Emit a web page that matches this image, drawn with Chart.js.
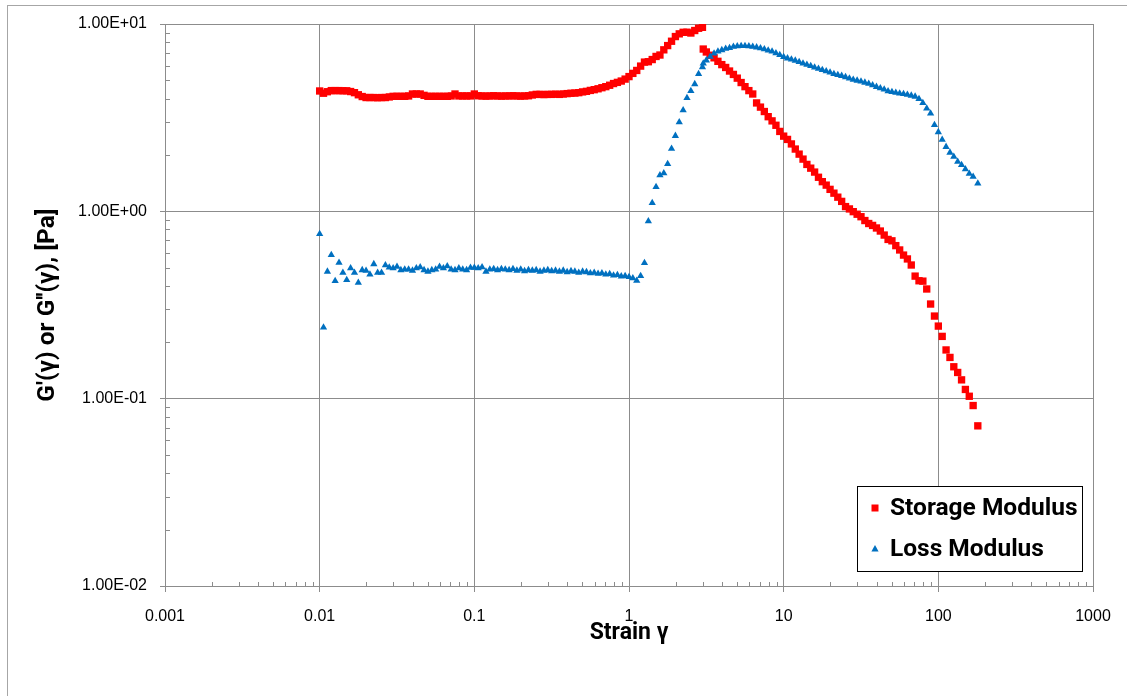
<!DOCTYPE html>
<html>
<head>
<meta charset="utf-8">
<title>Amplitude sweep</title>
<script src="https://cdn.jsdelivr.net/npm/chart.js@4.4.1/dist/chart.umd.min.js"></script>
<style>
  html, body { margin: 0; padding: 0; background: #fff; overflow: hidden; }
  #wrap { position: relative; width: 1127px; height: 696px; }
</style>
</head>
<body>
<div id="wrap"><canvas id="sweep"></canvas></div>
<script>
/* ---------- Data ---------- */
// strain amplitude (shared by both moduli)
const strain = [
  0.01, 0.01059, 0.01122, 0.01189, 0.01259, 0.01334, 0.01413, 0.01496, 0.01585, 0.01679,
  0.01778, 0.01884, 0.01995, 0.02113, 0.02239, 0.02371, 0.02512, 0.02661, 0.02818, 0.02985,
  0.03162, 0.0335, 0.03548, 0.03758, 0.03981, 0.04217, 0.04467, 0.04732, 0.05012, 0.05309,
  0.05623, 0.05957, 0.0631, 0.06683, 0.07079, 0.07499, 0.07943, 0.08414, 0.08913, 0.09441,
  0.1, 0.1059, 0.1122, 0.1189, 0.1259, 0.1334, 0.1413, 0.1496, 0.1585, 0.1679,
  0.1778, 0.1884, 0.1995, 0.2113, 0.2239, 0.2371, 0.2512, 0.2661, 0.2818, 0.2985,
  0.3162, 0.335, 0.3548, 0.3758, 0.3981, 0.4217, 0.4467, 0.4732, 0.5012, 0.5309,
  0.5623, 0.5957, 0.631, 0.6683, 0.7079, 0.7499, 0.7943, 0.8414, 0.8913, 0.9441,
  1, 1.059, 1.122, 1.189, 1.259, 1.334, 1.413, 1.496, 1.585, 1.679,
  1.778, 1.884, 1.995, 2.113, 2.239, 2.371, 2.512, 2.661, 2.818, 2.985,
  3.02, 3.162, 3.35, 3.548, 3.758, 3.981, 4.217, 4.467, 4.732, 5.012,
  5.309, 5.623, 5.957, 6.31, 6.683, 7.079, 7.499, 7.943, 8.414, 8.913, 9.441,
  10, 10.59, 11.22, 11.89, 12.59, 13.34, 14.13, 14.96, 15.85, 16.79,
  17.78, 18.84, 19.95, 21.13, 22.39, 23.71, 25.12, 26.61, 28.18, 29.85,
  31.62, 33.5, 35.48, 37.58, 39.81, 42.17, 44.67, 47.32, 50.12, 53.09,
  56.23, 59.57, 63.1, 66.83, 70.79, 74.99, 79.43, 84.14, 89.13, 94.41,
  100, 105.9, 112.2, 118.9, 125.9, 133.4, 141.3, 149.6, 158.5, 167.9, 180
];

// G' [Pa]
const storage = [
  4.39, 4.27, 4.35, 4.41, 4.41, 4.41, 4.40, 4.40, 4.36, 4.30,
  4.19, 4.10, 4.05, 4.05, 4.05, 4.04, 4.05, 4.05, 4.08, 4.11,
  4.11, 4.11, 4.11, 4.13, 4.23, 4.23, 4.23, 4.16, 4.11, 4.11,
  4.11, 4.11, 4.11, 4.11, 4.13, 4.23, 4.13, 4.13, 4.13, 4.13,
  4.23, 4.14, 4.13, 4.12, 4.13, 4.14, 4.13, 4.12, 4.13, 4.13,
  4.14, 4.13, 4.12, 4.13, 4.14, 4.18, 4.21, 4.21, 4.20, 4.21,
  4.21, 4.22, 4.21, 4.23, 4.25, 4.27, 4.28, 4.30, 4.34, 4.37,
  4.42, 4.46, 4.51, 4.57, 4.63, 4.71, 4.81, 4.88, 4.96, 5.08,
  5.24, 5.45, 5.65, 5.96, 6.26, 6.29, 6.46, 6.71, 6.83, 7.28,
  7.67, 8.09, 8.57, 8.86, 9.03, 9.04, 8.95, 9.23, 9.49, 9.60,
  7.35, 7.09, 6.81, 6.60, 6.32, 6.07, 5.86, 5.61, 5.38, 5.14,
  4.87, 4.63, 4.41, 4.23, 3.79, 3.60, 3.41, 3.20, 3.04, 2.88, 2.67,
  2.52, 2.42, 2.29, 2.15, 2.02, 1.90, 1.78, 1.70, 1.62, 1.52,
  1.44, 1.38, 1.31, 1.25, 1.19, 1.13, 1.06, 1.03, 0.996, 0.965,
  0.936, 0.893, 0.861, 0.841, 0.815, 0.785, 0.747, 0.708, 0.696, 0.656,
  0.622, 0.584, 0.557, 0.517, 0.451, 0.426, 0.424, 0.385, 0.320, 0.276,
  0.244, 0.215, 0.182, 0.166, 0.148, 0.138, 0.126, 0.112, 0.103, 0.0919, 0.0716
];

// G'' [Pa]
const loss = [
  0.757, 0.240, 0.477, 0.585, 0.425, 0.532, 0.470, 0.430, 0.497, 0.470,
  0.416, 0.486, 0.482, 0.461, 0.523, 0.470, 0.470, 0.516, 0.502, 0.497,
  0.506, 0.486, 0.490, 0.490, 0.483, 0.497, 0.503, 0.486, 0.477, 0.486,
  0.490, 0.506, 0.497, 0.510, 0.490, 0.486, 0.497, 0.490, 0.486, 0.500,
  0.500, 0.497, 0.503, 0.477, 0.490, 0.493, 0.486, 0.493, 0.490, 0.486,
  0.493, 0.483, 0.490, 0.480, 0.486, 0.483, 0.486, 0.477, 0.483, 0.486,
  0.480, 0.483, 0.477, 0.483, 0.474, 0.480, 0.477, 0.471, 0.477, 0.474,
  0.468, 0.471, 0.465, 0.468, 0.460, 0.463, 0.455, 0.458, 0.450, 0.452,
  0.446, 0.440, 0.426, 0.452, 0.530, 0.887, 1.11, 1.35, 1.56, 1.60,
  1.79, 2.16, 2.53, 2.99, 3.47, 4.03, 4.39, 4.78, 5.41, 5.89,
  6.16, 6.40, 6.70, 6.96, 7.14, 7.26, 7.39, 7.46, 7.57, 7.61,
  7.63, 7.63, 7.62, 7.57, 7.51, 7.43, 7.34, 7.23, 7.13, 6.98, 6.83,
  6.67, 6.56, 6.47, 6.38, 6.28, 6.16, 6.06, 5.97, 5.87, 5.78,
  5.69, 5.60, 5.52, 5.42, 5.35, 5.29, 5.21, 5.12, 5.05, 4.99,
  4.94, 4.87, 4.80, 4.72, 4.62, 4.54, 4.47, 4.38, 4.34, 4.30,
  4.26, 4.23, 4.19, 4.15, 4.10, 3.98, 3.79, 3.54, 3.33, 2.89,
  2.65, 2.41, 2.21, 2.06, 1.96, 1.84, 1.77, 1.68, 1.59, 1.53, 1.41
];

// axis decades and their labels
const xMajor = [0.001, 0.01, 0.1, 1, 10, 100, 1000];
const xTickLabels = ['0.001', '0.01', '0.1', '1', '10', '100', '1000'];
const yMajor = [0.01, 0.1, 1, 10];
const yTickLabels = ['1.00E-02', '1.00E-01', '1.00E+00', '1.00E+01'];

/* ---------- Style ---------- */
const GRID = '#8c8c8c';
const RED  = '#ff0000';
const BLUE = '#0070c0';

Chart.defaults.font.family = '"Liberation Sans", Arial, sans-serif';
Chart.defaults.color = '#000';

/* ---------- Helpers ---------- */
const majorIndex = (list, v) => list.findIndex(m => Math.abs(v / m - 1) < 1e-6);

// 1..9 ticks in every decade, labels only on the decades
function decadeTicks(majors) {
  const out = [];
  majors.forEach((m, i) => {
    out.push({ value: m });
    if (i < majors.length - 1) {
      for (let k = 2; k <= 9; k++) out.push({ value: m * k });
    }
  });
  return out;
}

const onMajor = (list) => (c) => (c.tick && majorIndex(list, c.tick.value) < 0) ? 'rgba(0,0,0,0)' : GRID;

/* ---------- Plugin: frame, minor ticks, legend box ---------- */
const sheetDecor = {
  id: 'sheetDecor',
  beforeDraw(chart) {
    const ctx = chart.ctx;
    ctx.save();
    ctx.fillStyle = '#fff';
    ctx.fillRect(0, 0, chart.width, chart.height);
    ctx.strokeStyle = '#a6a6a6';
    ctx.lineWidth = 1;
    ctx.strokeRect(7.5, 5.5, chart.width + 20, chart.height + 20);
    ctx.restore();
  },
  beforeDatasetsDraw(chart) {
    const ctx = chart.ctx;
    const { left, bottom } = chart.chartArea;
    const xs = chart.scales.x, ys = chart.scales.y;
    ctx.save();
    ctx.strokeStyle = GRID;
    ctx.lineWidth = 1;
    ctx.beginPath();
    ys.ticks.forEach(t => {
      if (majorIndex(yMajor, t.value) >= 0) return;
      const py = Math.round(ys.getPixelForValue(t.value)) + 0.5;
      ctx.moveTo(left, py);
      ctx.lineTo(left + 5, py);
    });
    xs.ticks.forEach(t => {
      if (majorIndex(xMajor, t.value) >= 0) return;
      const px = Math.round(xs.getPixelForValue(t.value)) + 0.5;
      ctx.moveTo(px, bottom);
      ctx.lineTo(px, bottom - 4);
    });
    ctx.stroke();
    ctx.restore();
  },
  afterDraw(chart) {
    const ctx = chart.ctx;
    const box = { x: 857, y: 486, w: 225, h: 86 };
    ctx.save();
    ctx.fillStyle = '#fff';
    ctx.fillRect(box.x, box.y, box.w, box.h);
    ctx.strokeStyle = '#000';
    ctx.lineWidth = 1;
    ctx.strokeRect(box.x + 0.5, box.y + 0.5, box.w, box.h - 1);

    ctx.font = 'bold 24.5px Roboto';
    ctx.textBaseline = 'middle';
    chart.data.datasets.forEach((ds, i) => {
      const cy = 508 + i * 41;
      const cx = 875;
      ctx.fillStyle = ds.pointBackgroundColor;
      if (ds.pointStyle === 'rect') {
        ctx.fillRect(cx - 3.5, cy - 3.5, 7, 7);
      } else {
        ctx.beginPath();
        ctx.moveTo(cx, cy - 4);
        ctx.lineTo(cx + 3.6, cy + 2.5);
        ctx.lineTo(cx - 3.6, cy + 2.5);
        ctx.closePath();
        ctx.fill();
      }
      ctx.fillStyle = '#000';
      ctx.fillText(ds.label, 890, cy + 1);
    });
    ctx.restore();
  }
};

/* ---------- Chart ---------- */
const toPoints = (ys) => strain.map((x, i) => ({ x, y: ys[i] }));

new Chart(document.getElementById('sweep'), {
  type: 'scatter',
  data: {
    datasets: [
      {
        label: 'Storage Modulus',
        data: toPoints(storage),
        pointStyle: 'rect',
        pointRadius: 5.2,
        pointBorderWidth: 0,
        pointBackgroundColor: RED,
        pointBorderColor: RED,
        showLine: false,
        order: 1
      },
      {
        label: 'Loss Modulus',
        data: toPoints(loss),
        pointStyle: 'triangle',
        pointRadius: 4.2,
        pointBorderWidth: 0,
        pointBackgroundColor: BLUE,
        pointBorderColor: BLUE,
        showLine: false,
        order: 0
      }
    ]
  },
  options: {
    responsive: true,
    maintainAspectRatio: false,
    animation: false,
    events: [],
    layout: { padding: { top: 24, right: 34, left: 0, bottom: 0 } },
    plugins: {
      legend: { display: false },
      tooltip: { enabled: false }
    },
    scales: {
      x: {
        type: 'logarithmic',
        min: 0.001,
        max: 1000,
        afterBuildTicks: (s) => { s.ticks = decadeTicks(xMajor); },
        afterFit: (s) => { s.height = 110; },
        ticks: {
          autoSkip: false,
          maxRotation: 0,
          padding: 15,
          font: { size: 16 },
          callback: (v) => { const i = majorIndex(xMajor, v); return i < 0 ? '' : xTickLabels[i]; }
        },
        grid: { color: onMajor(xMajor), tickColor: onMajor(xMajor), tickLength: 6, lineWidth: 1 },
        border: { color: GRID, width: 1 },
        title: {
          display: true, text: 'Strain γ', color: '#000',
          font: { family: 'Roboto', weight: 'bold', size: 23 },
          padding: { top: 0, bottom: 49 }
        }
      },
      y: {
        type: 'logarithmic',
        min: 0.01,
        max: 10,
        afterBuildTicks: (s) => { s.ticks = decadeTicks(yMajor); },
        afterFit: (s) => { s.width = 165; },
        ticks: {
          autoSkip: false,
          padding: 13,
          font: { size: 16 },
          callback: (v) => { const i = majorIndex(yMajor, v); return i < 0 ? '' : yTickLabels[i]; }
        },
        grid: { color: onMajor(yMajor), tickColor: onMajor(yMajor), tickLength: 5, lineWidth: 1 },
        border: { color: GRID, width: 1 },
        title: {
          display: true, text: "G'(γ) or G''(γ), [Pa]", color: '#000',
          font: { family: 'Roboto', weight: 'bold', size: 24.5 },
          padding: { top: 33, bottom: 0 }
        }
      }
    }
  },
  plugins: [sheetDecor]
});
</script>
</body>
</html>
